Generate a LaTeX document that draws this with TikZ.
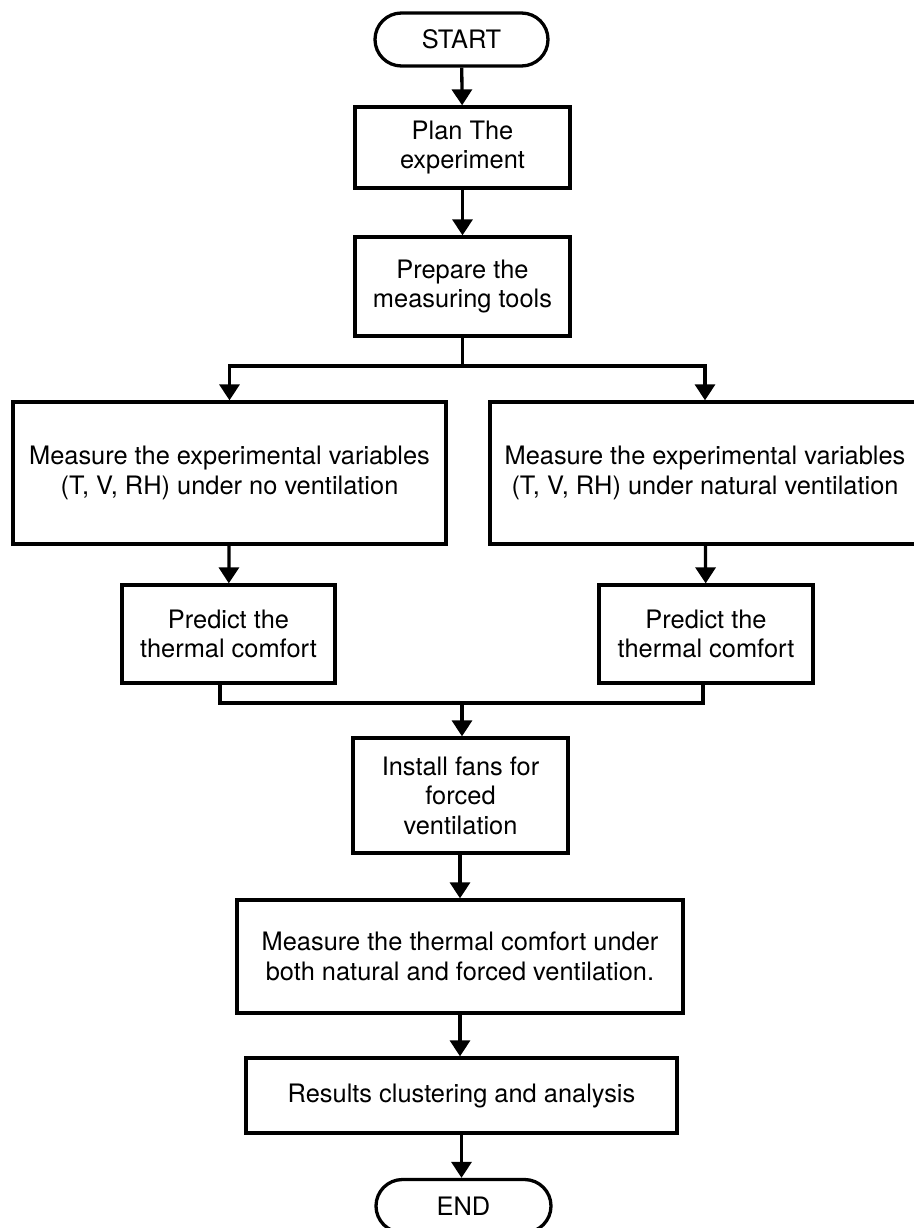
\documentclass[tikz,border=0pt]{standalone}
\usepackage{fontspec}
\setmainfont{TeX Gyre Heros}
\usetikzlibrary{arrows.meta,shapes.misc}
\begin{document}
\begin{tikzpicture}[x=1pt,y=-1pt,
  box/.style={draw,line width=3.3pt,align=center,inner sep=0pt,font=\fontsize{25.4}{29.5}\selectfont},
  term/.style={box,rounded rectangle},
  arr/.style={line width=3.3pt,-{Triangle[width=20pt,length=16pt]}},
  ln/.style={line width=3.3pt}]
\fill[white] (0,0) rectangle (913,1228);
\useasboundingbox (0,0) rectangle (913,1228);
\node[term,minimum width=173pt,minimum height=53pt] (start) at (461.5,39.5) {START};
\node[box,minimum width=215pt,minimum height=81pt] (plan) at (462.5,147.5) {Plan The\\experiment};
\node[box,minimum width=215pt,minimum height=99pt] (prep) at (462.5,286.5) {Prepare the\\measuring tools};
\node[box,minimum width=433pt,minimum height=142pt] (mleft) at (229.5,473) {Measure the experimental variables\\(T, V, RH) under no ventilation};
\node[box,minimum width=430pt,minimum height=142pt] (mright) at (705,473) {Measure the experimental variables\\(T, V, RH) under natural ventilation};
\node[box,minimum width=213pt,minimum height=98pt] (pleft) at (228.5,634) {Predict the\\thermal comfort};
\node[box,minimum width=214pt,minimum height=98pt] (pright) at (706,634) {Predict the\\thermal comfort};
\node[box,minimum width=215pt,minimum height=115pt] (install) at (460.5,795.5) {Install fans for\\forced\\ventilation};
\node[box,minimum width=446pt,minimum height=113pt] (mtherm) at (460,956.5) {Measure the thermal comfort under\\both natural and forced ventilation.};
\node[box,minimum width=431pt,minimum height=75pt] (results) at (461.5,1095.5) {Results clustering and analysis};
\node[term,minimum width=175pt,minimum height=53pt] (end) at (463.5,1206) {END};
\coordinate (split) at (462.5,366);
\coordinate (ljoin) at (220,703);
\coordinate (rjoin) at (703,703);
\coordinate (merge) at (462,703);
\draw[arr] (start) -- (plan);
\draw[arr] (plan) -- (prep);
\draw[ln] (prep) -- (split);
\draw[arr] (split) -| (mleft);
\draw[arr] (split) -| (mright);
\draw[arr] (mleft) -- (pleft);
\draw[arr] (mright) -- (pright);
\draw[ln] (pleft.south -| ljoin) -- (ljoin) -- (rjoin) -- (pright.south -| rjoin);
\draw[arr] (merge) -- (merge |- install.north);
\draw[arr] (install.south -| mtherm.north) -- (mtherm.north);
\draw[arr] (mtherm) -- (mtherm |- results.north);
\draw[arr] (results) -- (results |- end.north);
\end{tikzpicture}
\end{document}
